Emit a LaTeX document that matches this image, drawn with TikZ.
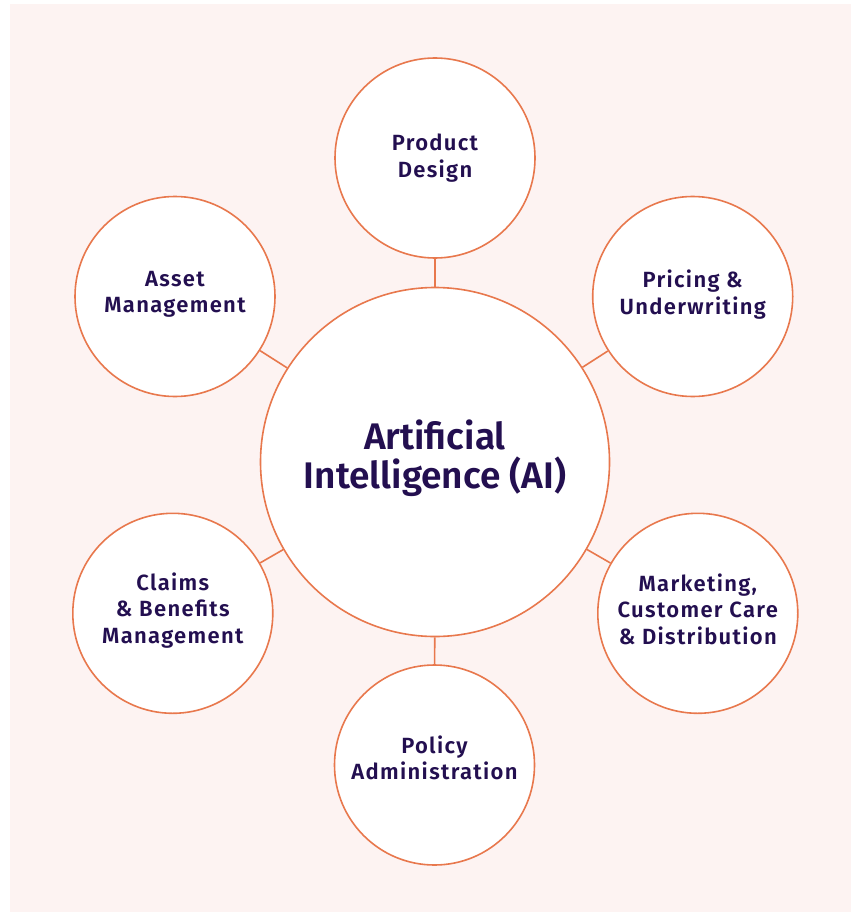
\documentclass[tikz,border=0pt]{standalone}
\usepackage{fontspec}
\setmainfont{Fira Sans}[BoldFont={Fira Sans SemiBold}]
\newfontfamily\spacedfont{Fira Sans SemiBold}[LetterSpace=6]
\definecolor{bgpink}{HTML}{FDF3F2}
\definecolor{ringor}{HTML}{E8784D}
\definecolor{txtpur}{HTML}{230F50}
\begin{document}
\begin{tikzpicture}[x=1pt,y=-1pt,
  hub/.style={circle,draw=ringor,line width=1.6pt,fill=white,inner sep=0pt,
    minimum size=349pt},
  spoke/.style={circle,draw=ringor,line width=1.6pt,fill=white,inner sep=0pt,
    minimum size=200pt},
  hubtext/.style={align=center,text=txtpur,inner sep=0pt,
    font=\bfseries\fontsize{37}{39}\selectfont},
  spoketext/.style={align=center,text=txtpur,inner sep=0pt,
    font=\spacedfont\fontsize{22}{26.5}\selectfont},
  link/.style={draw=ringor,line width=1.6pt}]
\path[use as bounding box] (0,0) rectangle (851,912);
\fill[bgpink] (10,4) rectangle (851,912);
\node[hub] (ai) at (435,462) {};
\node[spoke] (prod) at (435,158) {};
\node[spoke] (asset) at (175,296.5) {};
\node[spoke] (price) at (692.7,296.5) {};
\node[spoke] (claims) at (172.8,613.3) {};
\node[spoke] (mkt) at (697.8,613.3) {};
\node[spoke] (policy) at (434.5,765) {};
\foreach \n in {prod,asset,price,claims,mkt,policy}
  \draw[link] (ai) -- (\n);
\node[hubtext] (ait) at ([yshift=4pt]ai.center) {Artificial\\Intelligence (AI)};
\node[spoketext] (prodt) at ([yshift=0pt]prod.center) {Product\\Design};
\node[spoketext] (assett) at ([yshift=2pt]asset.center) {Asset\\Management};
\node[spoketext] (pricet) at ([yshift=2pt]price.center) {Pricing \&\\Underwriting};
\node[spoketext] (claimst) at ([yshift=3pt]claims.center) {Claims\\\& Benefits\\Management};
\node[spoketext] (mktt) at ([yshift=4pt]mkt.center) {Marketing,\\Customer Care\\\& Distribution};
\node[spoketext] (policyt) at ([yshift=7pt]policy.center) {Policy\\Administration};
\end{tikzpicture}
\end{document}
